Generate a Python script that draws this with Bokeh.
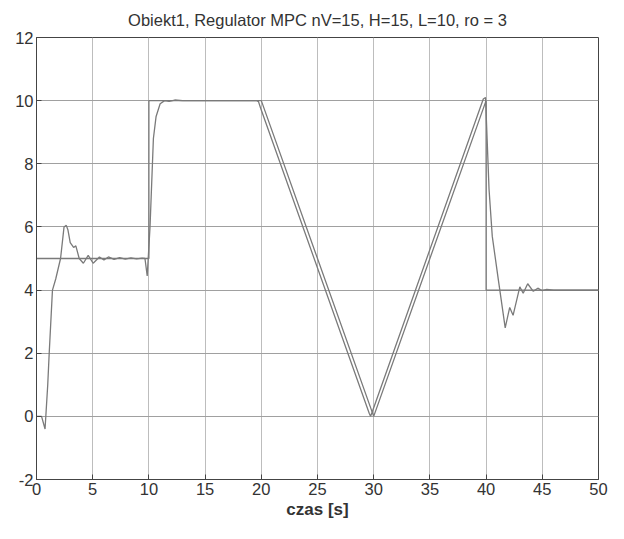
from bokeh.plotting import figure
from bokeh.embed import file_html
from bokeh.resources import INLINE
from bokeh.models import FixedTicker, Range1d

# Setpoint trajectory
t_set = [0, 10, 10, 20, 30, 40, 40, 50]
y_set = [5, 5, 10, 10, 0, 10, 4, 4]

# Process output
t_out = [0, 0.45, 0.76, 1.0, 1.13, 1.42, 1.71, 2.14, 2.45, 2.65, 2.8, 3.0, 3.3, 3.5,
         3.8, 4.17, 4.6, 5.04, 5.6, 6.0, 6.4, 6.9, 7.4, 7.9, 8.4, 8.9, 9.4, 9.65,
         9.85, 10.1, 10.4, 10.64, 11.0, 11.4, 11.8, 12.3, 13.0, 19.6, 19.75, 19.95,
         29.6, 29.72, 29.85, 39.75, 39.95, 40.26, 40.55, 41.1, 41.7, 42.1, 42.4,
         43.0, 43.3, 43.7, 44.2, 44.6, 45.0, 45.4, 46.0, 50.0]
y_out = [0, 0, -0.4, 1.0, 2.0, 4.0, 4.35, 5.0, 6.0, 6.05, 5.9, 5.5, 5.35, 5.4,
         5.0, 4.85, 5.1, 4.85, 5.05, 4.95, 5.05, 4.97, 5.03, 4.98, 5.02, 4.99, 5.01, 5.0,
         4.45, 6.0, 8.8, 9.5, 9.9, 10.0, 9.98, 10.02, 10.0, 10.0, 9.97, 9.75,
         0.1, 0.0, 0.12, 10.05, 10.1, 7.2, 5.7, 4.3, 2.8, 3.45, 3.2,
         4.1, 3.9, 4.2, 3.96, 4.06, 3.98, 4.02, 4.0, 4.0]

x_ticks = [0, 5, 10, 15, 20, 25, 30, 35, 40, 45, 50]
y_ticks = [-2, 0, 2, 4, 6, 8, 10, 12]
y_tick_labels = ["-2", "0", "2", "4", "6", "8", "10", "12"]

title_text = "Obiekt1, Regulator MPC nV=15, H=15, L=10, ro = 3"
x_label = "czas [s]"

FONT = "Liberation Sans"
TXT = "#333333"

p = figure(width=608, height=523, output_backend="svg", toolbar_location=None,
           x_range=Range1d(0, 50), y_range=Range1d(-2, 12),
           min_border_left=36, min_border_right=10, min_border_top=37, min_border_bottom=44,
           title=title_text)

p.title.align = "center"
p.title.text_font = FONT
p.title.text_font_size = "16.5px"
p.title.text_font_style = "normal"
p.title.text_color = TXT
p.title.standoff = 17

p.background_fill_color = "white"
p.border_fill_color = "white"
p.outline_line_color = "#444444"
p.outline_line_width = 1

p.xaxis.ticker = FixedTicker(ticks=x_ticks)
p.yaxis.ticker = FixedTicker(ticks=y_ticks)
p.yaxis.major_label_overrides = {v: s for v, s in zip(y_ticks, y_tick_labels)}
for ax in (p.xaxis, p.yaxis):
    ax.major_label_text_font = FONT
    ax.major_label_text_font_size = "16.5px"
    ax.major_label_text_color = TXT
    ax.major_tick_in = 5
    ax.major_tick_out = 0
    ax.minor_tick_line_color = None
    ax.axis_line_color = "#444444"
    ax.major_tick_line_color = "#444444"
    ax.major_label_standoff = 3

p.xaxis.axis_label = x_label
p.xaxis.axis_label_text_font = FONT
p.xaxis.axis_label_text_font_size = "17px"
p.xaxis.axis_label_text_font_style = "bold"
p.xaxis.axis_label_text_color = TXT
p.xaxis.axis_label_standoff = 2

p.xgrid.grid_line_color = "#bdbdbd"
p.xgrid.grid_line_width = 1
p.ygrid.grid_line_color = "#a0a0a0"
p.ygrid.grid_line_width = 1

p.line(t_set, y_set, line_color="#7a7a7a", line_width=1.3)
p.line(t_out, y_out, line_color="#7a7a7a", line_width=1.3)

open("out.html", "w").write(file_html(p, INLINE))
